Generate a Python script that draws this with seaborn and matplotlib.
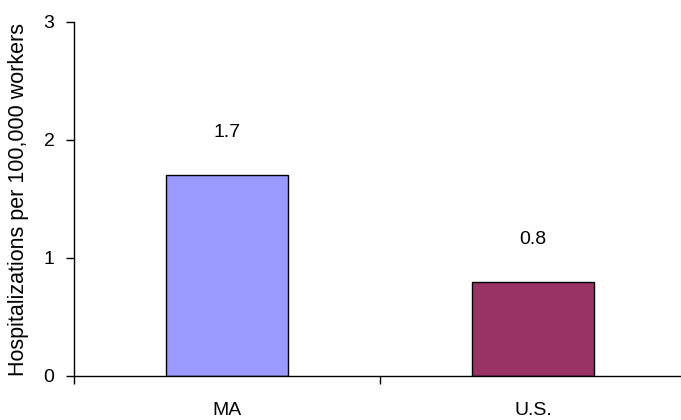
import matplotlib
matplotlib.use("Agg")
import matplotlib.pyplot as plt
import seaborn as sns

# dados do grafico
regioes = ["MA", "U.S."]
taxas = [1.7, 0.8]
cores = ["#9999FF", "#993366"]

sns.set_style("white")
plt.rcParams['font.family'] = ['Liberation Sans', 'DejaVu Sans']
plt.rcParams['text.color'] = 'black'
plt.rcParams['axes.labelcolor'] = 'black'
plt.rcParams['xtick.color'] = 'black'
plt.rcParams['ytick.color'] = 'black'

fig = plt.figure(figsize=(6.81, 4.2), dpi=100)
ax = fig.add_axes([74 / 681, 44 / 420, 612 / 681, 354 / 420])

sns.barplot(x=regioes, y=taxas, hue=regioes, palette=cores, width=0.4, saturation=1,
            edgecolor="black", linewidth=1, legend=False, ax=ax)

## rotulos acima das barras
for i, v in enumerate(taxas):
    ax.text(i, v + 0.36, f"{v:.1f}", ha="center", va="center", fontsize=14)

ax.set_ylim(0, 3)
ax.set_xlim(-0.5, 1.5)
ax.set_yticks([0, 1, 2, 3])
ax.set_ylabel("Hospitalizations per 100,000 workers", fontsize=15.5)
ax.yaxis.set_label_coords(-0.074, 0.5)
ax.set_xlabel("")

# ticks do eixo x nas divisoes entre categorias
ax.set_xticks([-0.5, 0.5, 1.5], minor=False)
ax.set_xticklabels(["", "", ""])
ax.set_xticks([0, 1], minor=True)
ax.set_xticklabels(regioes, minor=True, fontsize=14)
ax.tick_params(axis="x", which="major", direction="out", length=6, width=1, bottom=True)
ax.tick_params(axis="x", which="minor", length=0, pad=19)
ax.tick_params(axis="y", direction="out", length=6, width=1, left=True, labelsize=14, pad=8)

for s in ["top", "right"]:
    ax.spines[s].set_visible(False)
for s in ["left", "bottom"]:
    ax.spines[s].set_color("black")
    ax.spines[s].set_linewidth(1)

fig.savefig("out.png", dpi=100)
